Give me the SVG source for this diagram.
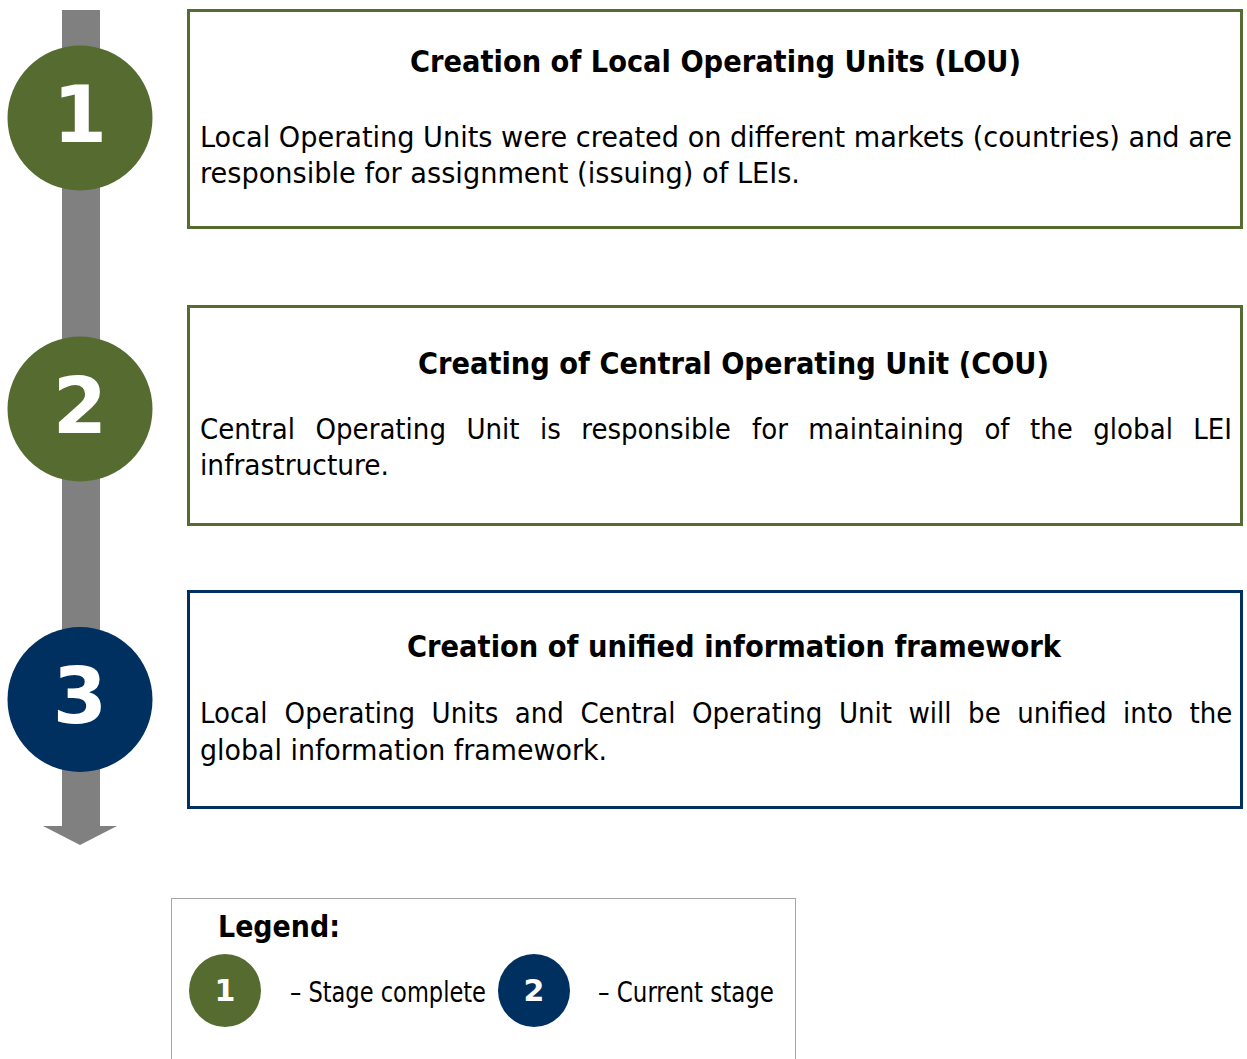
<svg xmlns="http://www.w3.org/2000/svg" width="1247" height="1059" viewBox="0 0 1247 1059">
<style>
.body{font-family:"DejaVu Sans Condensed","DejaVu Sans",sans-serif;font-size:29px;fill:#000}
.title{font-family:"DejaVu Sans Condensed","DejaVu Sans",sans-serif;font-size:30px;font-weight:bold;fill:#000}
.num{font-family:"DejaVu Sans","Liberation Sans",sans-serif;font-weight:bold;fill:#fff;text-anchor:middle}
.leg{font-family:"DejaVu Sans Condensed","DejaVu Sans",sans-serif;font-size:28px;fill:#000}
.boxg{fill:#fff;stroke:#556b2f;stroke-width:3}
.boxb{fill:#fff;stroke:#003060;stroke-width:3}
.green{fill:#556b2f}
.navy{fill:#003060}
</style>
<g id="timeline">
<rect x="62" y="10" width="38" height="816" fill="#808080"/>
<polygon points="43,826 117,826 80,845" fill="#808080"/>
</g>
<g id="stage1">
<circle class="green" cx="80" cy="118" r="72.5"/>
<text class="num" x="80" y="142" font-size="78">1</text>
<rect class="boxg" x="188.5" y="10.5" width="1053" height="217"/>
<text class="title" x="410" y="72" textLength="611" lengthAdjust="spacingAndGlyphs">Creation of Local Operating Units (LOU)</text>
<text class="body" x="200" y="146.5" textLength="1032" lengthAdjust="spacingAndGlyphs">Local Operating Units were created on different markets (countries) and are</text>
<text class="body" x="200" y="183" textLength="600" lengthAdjust="spacingAndGlyphs">responsible for assignment (issuing) of LEIs.</text>
</g>
<g id="stage2">
<circle class="green" cx="80" cy="409" r="72.5"/>
<text class="num" x="80" y="433" font-size="78">2</text>
<rect class="boxg" x="188.5" y="306.5" width="1053" height="218"/>
<text class="title" x="418" y="374" textLength="631" lengthAdjust="spacingAndGlyphs">Creating of Central Operating Unit (COU)</text>
<text class="body" y="439"><tspan x="200">Central</tspan><tspan x="315.5">Operating</tspan><tspan x="466.4">Unit</tspan><tspan x="540">is</tspan><tspan x="581.3">responsible</tspan><tspan x="752">for</tspan><tspan x="808.3">maintaining</tspan><tspan x="984.4">of</tspan><tspan x="1030">the</tspan><tspan x="1093.3">global</tspan><tspan x="1193.3">LEI</tspan></text>
<text class="body" x="200" y="475" textLength="189" lengthAdjust="spacingAndGlyphs">infrastructure.</text>
</g>
<g id="stage3">
<circle class="navy" cx="80" cy="699.5" r="72.5"/>
<text class="num" x="80" y="723" font-size="78">3</text>
<rect class="boxb" x="188.5" y="591.5" width="1053" height="216"/>
<text class="title" x="407" y="657" textLength="654" lengthAdjust="spacingAndGlyphs">Creation of unified information framework</text>
<text class="body" y="723"><tspan x="200">Local</tspan><tspan x="284.6">Operating</tspan><tspan x="431.6">Units</tspan><tspan x="514.8">and</tspan><tspan x="580.4">Central</tspan><tspan x="691.9">Operating</tspan><tspan x="838.9">Unit</tspan><tspan x="908.5">will</tspan><tspan x="968.1">be</tspan><tspan x="1017.2">unified</tspan><tspan x="1123.1">into</tspan><tspan x="1189.6">the</tspan></text>
<text class="body" x="200" y="759.5" textLength="407" lengthAdjust="spacingAndGlyphs">global information framework.</text>
</g>
<g id="legend">
<rect x="171.5" y="898.5" width="624" height="180" fill="none" stroke="#a6a6a6" stroke-width="1"/>
<text class="title" x="218" y="937" textLength="122" lengthAdjust="spacingAndGlyphs">Legend:</text>
<ellipse class="green" cx="225" cy="990.5" rx="36" ry="36.5"/>
<text class="num" x="225" y="1001" font-size="30">1</text>
<text class="leg" x="290" y="1002" textLength="196" lengthAdjust="spacingAndGlyphs">– Stage complete</text>
<ellipse class="navy" cx="534" cy="990.5" rx="36" ry="36.5"/>
<text class="num" x="534" y="1001" font-size="30">2</text>
<text class="leg" x="598" y="1002" textLength="176" lengthAdjust="spacingAndGlyphs">– Current stage</text>
</g>
</svg>
